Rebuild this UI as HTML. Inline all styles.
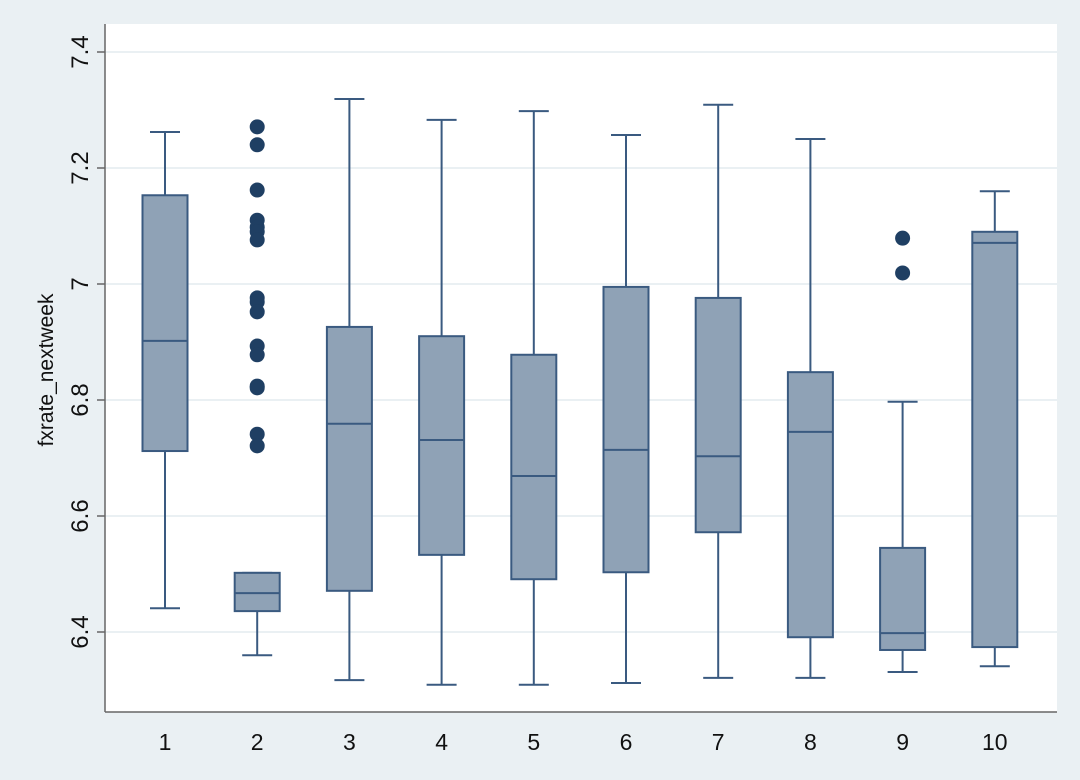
<!DOCTYPE html>
<html><head><meta charset="utf-8"><style>
html,body{margin:0;padding:0;background:#eaf0f3;}
svg{display:block;font-family:"Liberation Sans",sans-serif;}
</style></head><body>
<svg id="chart" width="1080" height="780" viewBox="0 0 1080 780" xmlns="http://www.w3.org/2000/svg">
<rect x="0" y="0" width="1080" height="780" fill="#eaf0f3"/>
<rect x="105" y="24" width="952" height="688" fill="#ffffff"/>
<g id="grid"></g>
<g id="marks"></g>
<line x1="105" y1="24" x2="105" y2="712" stroke="#666" stroke-width="1.5"/>
<line x1="105" y1="712" x2="1057" y2="712" stroke="#666" stroke-width="1.5"/>
<g id="axes"></g>
<text transform="translate(53,370) rotate(-90)" text-anchor="middle" font-size="21" fill="#111">fxrate_nextweek</text>
</svg>
<script>
const categories = ["1","2","3","4","5","6","7","8","9","10"];
const whiskerHigh = [7.262,6.502,7.319,7.283,7.298,7.257,7.309,7.250,6.797,7.160];
const q3 = [7.153,6.502,6.926,6.910,6.878,6.995,6.976,6.848,6.545,7.090];
const median = [6.902,6.467,6.759,6.731,6.669,6.714,6.703,6.745,6.398,7.071];
const q1 = [6.712,6.436,6.471,6.533,6.491,6.503,6.572,6.391,6.369,6.374];
const whiskerLow = [6.441,6.360,6.317,6.309,6.309,6.312,6.321,6.321,6.331,6.341];
const outliers2 = [7.271,7.240,7.162,7.110,7.098,7.090,7.076,6.976,6.969,6.952,6.893,6.878,6.824,6.821,6.741,6.721];
const outliers9 = [7.079,7.019];
const outlierGroups = [[],outliers2,[],[],[],[],[],[],outliers9,[]];
const yTicks = [6.4,6.6,6.8,7,7.2,7.4];
const yTickLabels = ["6.4","6.6","6.8","7","7.2","7.4"];

const NS="http://www.w3.org/2000/svg";
function y(v){return 632-(v-6.4)*580;}
function x(i){return 165+i*92.2;}
function mk(tag,attrs,parent){const e=document.createElementNS(NS,tag);for(const k in attrs)e.setAttribute(k,attrs[k]);parent.appendChild(e);return e;}
const grid=document.getElementById('grid'),marks=document.getElementById('marks'),axes=document.getElementById('axes');
yTicks.forEach((t,i)=>{
  const g=mk('line',{x1:105,x2:1057,y1:y(t),y2:y(t),stroke:'#eaf0f3','stroke-width':2},grid);
  
  
  const tk=mk('line',{x1:97,x2:105,y1:y(t),y2:y(t),stroke:'#666','stroke-width':1.5},axes);
  
  
  const tx=mk('text',{transform:`translate(88,${y(t)}) rotate(-90)`,'text-anchor':'middle','font-size':24,fill:'#111'},axes);
  tx.textContent=yTickLabels[i];
  
  
});
const stroke='#3a5a80',fill='#8fa2b6';
categories.forEach((c,i)=>{
  const cx=x(i);
  const g=mk('g',{},marks);
  
  
  mk('line',{x1:cx,x2:cx,y1:y(whiskerHigh[i]),y2:y(q3[i]),stroke,'stroke-width':2},g);
  mk('line',{x1:cx,x2:cx,y1:y(q1[i]),y2:y(whiskerLow[i]),stroke,'stroke-width':2},g);
  mk('line',{x1:cx-15,x2:cx+15,y1:y(whiskerHigh[i]),y2:y(whiskerHigh[i]),stroke,'stroke-width':2},g);
  mk('line',{x1:cx-15,x2:cx+15,y1:y(whiskerLow[i]),y2:y(whiskerLow[i]),stroke,'stroke-width':2},g);
  const b=mk('rect',{x:cx-22.5,width:45,y:y(q3[i]),height:y(q1[i])-y(q3[i]),fill,stroke,'stroke-width':2},g);
  
  
  mk('line',{x1:cx-22.5,x2:cx+22.5,y1:y(median[i]),y2:y(median[i]),stroke,'stroke-width':2},g);
  outlierGroups[i].forEach(v=>{
    const o=mk('circle',{cx:cx,cy:y(v),r:7.5,fill:'#1f3f63'},g);
    
    
  });
  const lb=mk('text',{x:cx,y:750,'text-anchor':'middle','font-size':23,fill:'#111'},axes);
  lb.textContent=c;
  
  
});
</script>
</body></html>
